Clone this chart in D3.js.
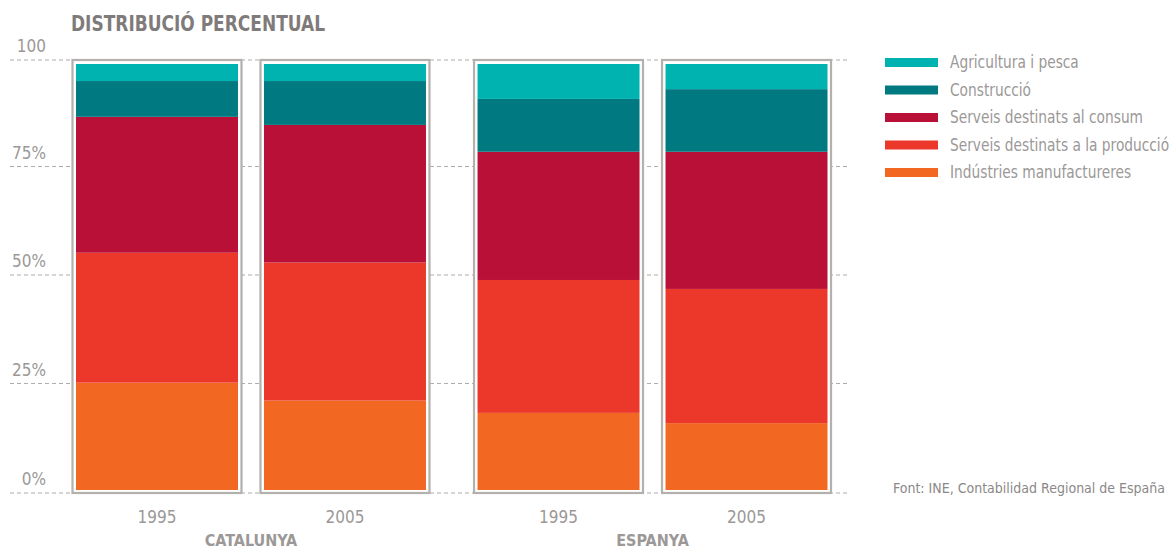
<!DOCTYPE html>
<html>
<head>
<meta charset="utf-8">
<script src="https://cdn.jsdelivr.net/npm/d3@7/dist/d3.min.js"></script>
<style>
body{margin:0;background:#fff;}
svg text{font-family:"Liberation Sans Narrow","DejaVu Sans Condensed",sans-serif;}
</style>
</head>
<body>
<svg id="chart" width="1170" height="552"></svg>
<script>
// dades
var regions = ["CATALUNYA", "ESPANYA"];
var years = ["1995", "2005"];
var sectors = ["Indústries manufactureres", "Serveis destinats a la producció", "Serveis destinats al consum", "Construcció", "Agricultura i pesca"];
var catalunya1995 = [25.2, 30.5, 31.9, 8.4, 4.0];
var catalunya2005 = [21.0, 32.4, 32.3, 10.3, 4.0];
var espanya1995 = [18.1, 31.2, 30.1, 12.4, 8.2];
var espanya2005 = [15.7, 31.5, 32.2, 14.7, 5.9];
var yTicks = [0, 25, 50, 75, 100];
var yTickLabels = ["0%", "25%", "50%", "75%", "100"];
var colors = ["#f26722", "#ec372b", "#b81036", "#007a80", "#00b2b0"];

var rows = [
	{region: "CATALUNYA", year: "1995", vals: catalunya1995},
	{region: "CATALUNYA", year: "2005", vals: catalunya2005},
	{region: "ESPANYA", year: "1995", vals: espanya1995},
	{region: "ESPANYA", year: "2005", vals: espanya2005}
];
var table = rows.map(function(r){
	var o = {region: r.region, year: r.year};
	sectors.forEach(function(s, i){ o[s] = r.vals[i]; });
	return o;
});

var svg = d3.select("#chart");
var grey = "#9b9897";

var x0 = d3.scaleBand().domain(regions).range([72.5, 831]).paddingInner(0.111);
var x1 = d3.scaleBand().domain(years).range([0, x0.bandwidth()]).paddingInner(0.101);
var y = d3.scaleLinear().domain([0, 100]).range([490, 64]);
var pad = 3; // espai blanc entre el marc i la barra

// titol
svg.append("text")
	.attr("transform", "translate(71,31) scale(0.86,1)")
	.attr("font-size", 22).attr("font-weight", "bold")
	.attr("fill", "#7f7b7a")
	.text("DISTRIBUCIÓ PERCENTUAL");

// linies de referencia
function gridY(t){
	if (t == 0) return y(0) + pad;
	if (t == 100) return y(100) - pad - 1;
	return y(t) - (t - 25) * 0.08;
}
var grid = svg.append("g").attr("class", "grid");
grid.selectAll("line").data(yTicks).enter().append("line")
	.attr("x1", 10).attr("x2", 850)
	.attr("y1", function(d){ return gridY(d); })
	.attr("y2", function(d){ return gridY(d); })
	.attr("stroke", "#aeabaa")
	.attr("stroke-width", 1.2)
	.attr("stroke-dasharray", "4 3");
grid.selectAll("text").data(yTicks).enter().append("text")
	.attr("x", 46)
	.attr("y", function(d){ return gridY(d) - 8; })
	.attr("text-anchor", "end")
	.attr("font-size", 17)
	.attr("fill", grey)
	.text(function(d, i){ return yTickLabels[i]; });

// barres apilades
var stack = d3.stack().keys(sectors)(table);
var cols = svg.selectAll(".col").data(table).enter().append("g")
	.attr("class", "col")
	.attr("transform", function(d){ return "translate(" + (x0(d.region) + x1(d.year)) + ",0)"; });
cols.append("rect")
	.attr("x", 0).attr("y", y(100) - pad - 1)
	.attr("width", x1.bandwidth())
	.attr("height", y(0) - y(100) + 2 * pad + 1)
	.attr("fill", "#fff")
	.attr("stroke", "#b3b0ae")
	.attr("stroke-width", 2.2);

svg.append("g").selectAll("g").data(stack).enter().append("g")
	.attr("fill", function(d, i){ return colors[i]; })
	.selectAll("rect").data(function(d){ return d; }).enter().append("rect")
	.attr("x", function(d){ return x0(d.data.region) + x1(d.data.year) + pad + 0.5; })
	.attr("width", x1.bandwidth() - 2 * pad - 1)
	.attr("y", function(d){ return y(d[1]); })
	.attr("height", function(d){ return y(d[0]) - y(d[1]); });

// etiquetes eix x
cols.append("text")
	.attr("x", x1.bandwidth() / 2).attr("y", 523)
	.attr("text-anchor", "middle")
	.attr("font-size", 17)
	.attr("fill", grey)
	.text(function(d){ return d.year; });
svg.selectAll(".region").data(regions).enter().append("text")
	.attr("class", "region")
	.attr("x", function(d){ return x0(d) + x0.bandwidth() / 2; })
	.attr("y", 546)
	.attr("text-anchor", "middle")
	.attr("font-size", 16).attr("font-weight", "bold")
	.attr("fill", grey)
	.text(function(d){ return d; });

// llegenda
var legend = svg.append("g").attr("transform", "translate(885,62)");
var legItems = sectors.slice().reverse();
var li = legend.selectAll("g").data(legItems).enter().append("g")
	.attr("transform", function(d, i){ return "translate(0," + (i * 27.5) + ")"; });
li.append("rect")
	.attr("x", 0).attr("y", -4).attr("width", 53).attr("height", 9)
	.attr("fill", function(d){ return colors[sectors.indexOf(d)]; });
li.append("text")
	.attr("transform", "translate(65,6) scale(0.9,1)")
	.attr("font-size", 17)
	.attr("fill", grey)
	.text(function(d){ return d; });

// font
svg.append("text")
	.attr("x", 893).attr("y", 493)
	.attr("font-size", 14)
	.attr("fill", "#8b8887")
	.text("Font: INE, Contabilidad Regional de España");
</script>
</body>
</html>
